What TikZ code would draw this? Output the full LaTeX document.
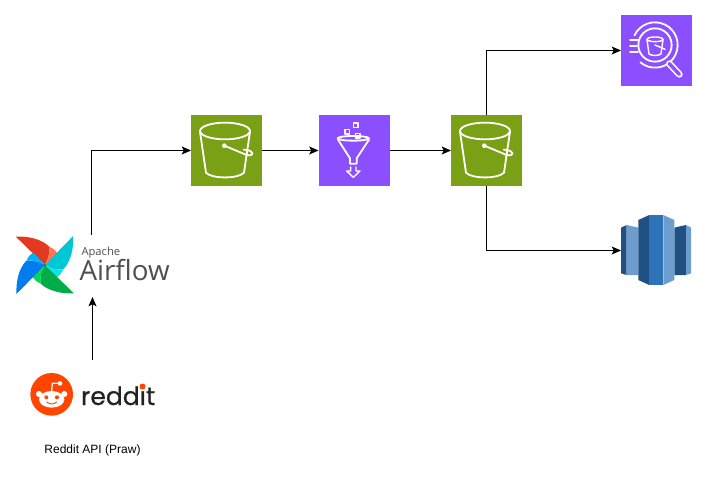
\documentclass[tikz,border=0pt]{standalone}
\usepackage{fontspec}
\setmainfont{Liberation Sans}
\newfontfamily\logofont{Open Sans}
\newfontfamily\redditfont{Poppins}[FakeBold=0.7]
\usetikzlibrary{arrows.meta,calc}
\definecolor{awsgreen}{HTML}{7AA116}
\definecolor{awspurple}{HTML}{8C4FFF}
\definecolor{rsdark}{HTML}{205081}
\definecolor{rsmid}{HTML}{2E73B8}
\definecolor{rslight}{HTML}{6D9DCF}
\definecolor{afgrey}{HTML}{51504F}
\definecolor{redditorange}{HTML}{FF4500}
\definecolor{redditdark}{HTML}{222222}
\definecolor{afred}{HTML}{E43921}
\definecolor{afsalmon}{HTML}{FF7557}
\definecolor{afcyan}{HTML}{00C7D4}
\definecolor{afcyanl}{HTML}{11E1EE}
\definecolor{afgreen}{HTML}{00AD46}
\definecolor{afgreenl}{HTML}{04D659}
\definecolor{afblue}{HTML}{017CEE}
\definecolor{afbluel}{HTML}{00B0FF}
\newcommand{\afblade}[3]{%
  \begin{scope}[rotate=#1]
    \fill[#2] (-87,-85) .. controls (-50,-87) and (-10,-78) .. (13.5,-55) .. controls (15,-35) and (10,-15) .. (0,0) -- cycle;
    \fill[#3] (13.5,-55) .. controls (25,-50) and (33,-43) .. (37.5,-35) -- (0,0) .. controls (10,-15) and (15,-35) .. (13.5,-55) -- cycle;
  \end{scope}}
\tikzset{
  iconbox/.style={minimum size=53.25pt,inner sep=0pt,outer sep=0pt,draw=none},
  s3box/.style={iconbox,fill=awsgreen},
  purplebox/.style={iconbox,fill=awspurple},
  ghost/.style={inner sep=0pt,outer sep=0pt,draw=none},
  link/.style={draw=black,line width=.75pt,-{Stealth[length=7pt,width=6pt,inset=1.6pt]}},
  glyph/.style={draw=white,line width=1.35pt,line join=round,line cap=round},
  thinglyph/.style={draw=white,line width=1.05pt,line join=round,line cap=round},
  zoomed/.style={x=.25pt,y=-.25pt},
  pics/bucket/.style={code={
    \begin{scope}[zoomed]
      \draw[glyph] (135,78) ellipse [x radius=75,y radius=25];
      \draw[glyph] (60,80) -- (78,203) .. controls (95,222) and (175,222) .. (192,203) -- (210,80);
      \fill[white] (133,122) circle [radius=7];
      \draw[glyph] (133,122) -- (200,150) .. controls (225,155) and (222,138) .. (200,135) .. controls (197,134) and (194,134) .. (191,134);
    \end{scope}
  }}
}
\begin{document}
\begin{tikzpicture}[x=.75pt,y=-.75pt]
\useasboundingbox (0,0) rectangle (707,481);
\fill[white] (0,0) rectangle (707,481);

% main boxes
\node[s3box] (bronze) at (226.5,150.5) {};
\node[purplebox] (glue) at (354,150.5) {};
\node[s3box] (silver) at (486.5,150.5) {};
\node[purplebox] (athena) at (656.5,50.5) {};
\node[ghost,minimum width=53.25pt,minimum height=53.25pt] (redshift) at (656.5,250.5) {};
\node[ghost,minimum width=116.25pt,minimum height=46.5pt] (airflow) at (92.5,266) {};
\node[ghost,minimum width=93.75pt,minimum height=42pt] (reddit) at (92.5,388) {};
\node[ghost,font=\fontsize{9pt}{11pt}\selectfont] (caption) at (92.5,450.5) {Reddit API (Praw)};

% S3 buckets
\pic at (180,105) {bucket};
\pic at (440,105) {bucket};

% Glue funnel
\begin{scope}[shift={(180,105)},zoomed]
  \draw[glyph] (520,100) ellipse [x radius=47,y radius=7];
  \draw[glyph] (474,104) -- (510,160) -- (510,176) -- (530,176) -- (530,160) -- (567,104);
  \draw[thinglyph] (495,73) rectangle (509,87);
  \draw[thinglyph] (526,85) rectangle (540,99);
  \draw[thinglyph] (520,54) rectangle (534,68);
  \draw[thinglyph] (512,186) -- (512,198) -- (500,198) -- (520,217) -- (540,198) -- (528,198) -- (528,186);
\end{scope}

% Athena
\begin{scope}[shift={(610,5)},zoomed]
  \draw[glyph] (135,120) circle [radius=50];
  \draw[glyph] (135,120) ++(205:68) arc [start angle=205,end angle=490,radius=68];
  \draw[glyph] (60,104) -- (84,104);
  \draw[glyph] (60,122) -- (80,122);
  \draw[glyph] (60,140) -- (84,140);
  \draw[thinglyph] (135,103) ellipse [x radius=24,y radius=7];
  \draw[thinglyph] (111,104) -- (117,147) .. controls (125,153) and (145,153) .. (153,147) -- (159,104);
  \draw[thinglyph] (135,120) -- (165,133);
  \draw[white,line width=5pt,line cap=round] (178,176) -- (208,208);
  \draw[awspurple,line width=2.6pt,line cap=round] (178,176) -- (208,208);
\end{scope}

% Redshift
\begin{scope}[shift={(610,205)},zoomed]
  \fill[rsdark] (33,68) -- (50,60) -- (50,210) -- (33,205) -- cycle;
  \fill[rslight] (50,60) -- (85,68) -- (85,210) -- (50,210) -- cycle;
  \fill[rsdark] (193,68) -- (228,60) -- (228,210) -- (193,210) -- cycle;
  \fill[rslight] (228,60) -- (243,68) -- (243,205) -- (228,210) -- cycle;
  \fill[rsdark] (85,45) -- (118,30) -- (118,240) -- (85,225) -- cycle;
  \fill[rsmid] (118,30) rectangle (160,240);
  \fill[rslight] (160,30) -- (193,45) -- (193,225) -- (160,240) -- cycle;
\end{scope}

% Airflow pinwheel
\begin{scope}[shift={(0,220)},zoomed,shift={(134.5,135)}]
  \afblade{0}{afred}{afsalmon}
  \afblade{-90}{afcyan}{afcyanl}
  \afblade{-180}{afgreen}{afgreenl}
  \afblade{-270}{afblue}{afbluel}
  \fill[black!75] (0,0) circle [radius=3];
\end{scope}
\node[ghost,anchor=base west,font=\logofont\fontsize{8.4pt}{9pt}\selectfont,text=afgrey] (apache) at (81.5,255.5) {Apache};
\node[ghost,anchor=base west,font=\logofont\fontsize{20.8pt}{22pt}\selectfont,text=afgrey] (airflowtxt) at (79.5,281) {Airflow};

% Reddit
\begin{scope}[shift={(0,220)},zoomed]
  \fill[redditorange] (155,523) circle [radius=64];
  \fill[white] (155,538) ellipse [x radius=38,y radius=25];
  \fill[white] (117,522) circle [radius=9];
  \fill[white] (193,522) circle [radius=9];
  \draw[white,line width=.9pt] (155,515) -- (157,490) -- (178,490);
  \fill[white] (180,490) circle [radius=7];
  \fill[redditorange] (139,532) circle [radius=6];
  \fill[redditorange] (171,532) circle [radius=6];
  \draw[redditorange,line width=.7pt,line cap=round] (140,546) .. controls (150,554) and (160,554) .. (170,546);
\end{scope}
\node[ghost,anchor=base west,font=\redditfont\fontsize{18.8pt}{22pt}\selectfont,text=redditdark] (reddittxt) at (81,405) {reddit};
\fill[redditorange] (142.5,386.5) circle [radius=3];

% connectors
\draw[link] ([xshift=-.75pt]airflow.north) |- (bronze.west);
\draw[link] (bronze) -- (glue);
\draw[link] (glue) -- (silver);
\draw[link] (silver.north) |- (athena.west);
\draw[link] (silver.south) |- (redshift.west);
\draw[link] (reddit.north) -- (airflow.south);
\end{tikzpicture}
\end{document}
